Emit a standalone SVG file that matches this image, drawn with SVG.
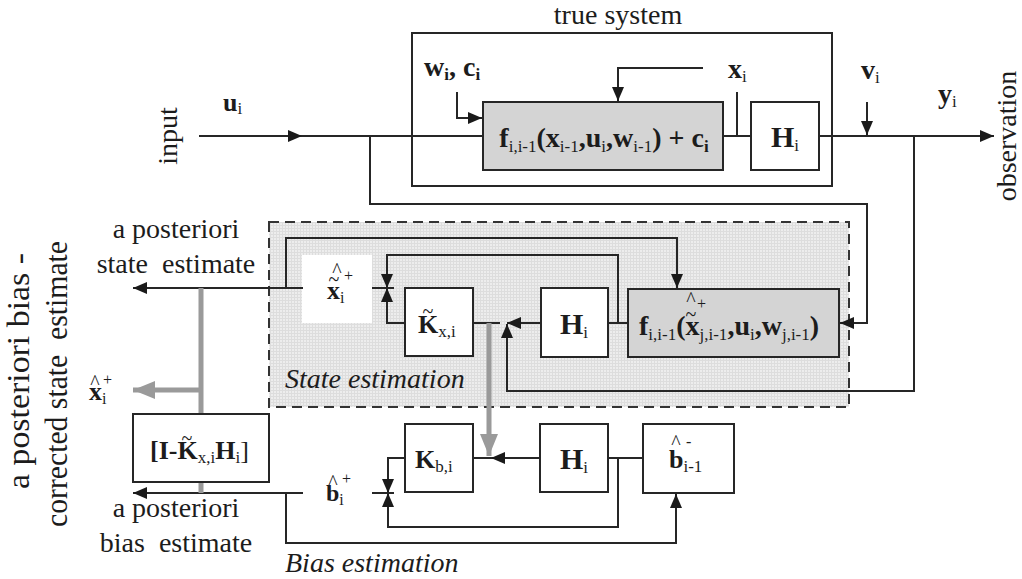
<svg xmlns="http://www.w3.org/2000/svg" width="1022" height="579" viewBox="0 0 1022 579" font-family="'Liberation Serif', 'DejaVu Serif', serif">
<defs>
<style>
.t{font-family:'Liberation Serif','DejaVu Serif','Times New Roman',serif;fill:#1c1c1c}
.lg{font-size:28px}
.md{font-size:26px}
.b{font-weight:bold}
.it{font-style:italic}
.s{font-size:17px;font-weight:normal}
.sb{font-size:17px;font-weight:bold}
.acc{font-size:20px;font-weight:normal}
.sup{font-size:16px;font-weight:normal}
.pre{white-space:pre}
.box{fill:#fff;stroke:#262626;stroke-width:2}
.gbox{fill:#d4d4d4;stroke:#262626;stroke-width:2}
.ln{fill:none;stroke:#262626;stroke-width:2}
.arr{marker-end:url(#ah)}
.gl{fill:none;stroke:#9a9a9a;stroke-width:5}
.garr{marker-end:url(#gah)}
</style>
<marker id="ah" viewBox="0 0 14 12" refX="14" refY="6" markerWidth="14" markerHeight="12" orient="auto" markerUnits="userSpaceOnUse">
<path d="M0,0L14,6L0,12z" fill="#1a1a1a"/>
</marker>
<marker id="gah" viewBox="0 0 22 18" refX="22" refY="9" markerWidth="22" markerHeight="18" orient="auto" markerUnits="userSpaceOnUse">
<path d="M0,0L22,9L0,18z" fill="#9a9a9a"/>
</marker>
<pattern id="grid" width="3" height="3" patternUnits="userSpaceOnUse">
<rect width="3" height="3" fill="#ededed"/>
<path d="M0,0.5H3M0.5,0V3" stroke="#dddddd" stroke-width="1"/>
</pattern>
</defs>

<rect width="1022" height="579" fill="#fff"/>

<!-- state estimation region (shaded, dashed outline) -->
<g id="state-estimation">
<rect x="269" y="222" width="580" height="185" fill="url(#grid)" stroke="#333" stroke-width="2" stroke-dasharray="10 6"/>
<rect x="302" y="255" width="70" height="68" fill="#fff"/>
<text class="t lg it" x="285" y="388">State estimation</text>
</g>

<!-- true system frame -->
<g id="true-system">
<rect x="412" y="33" width="420" height="153" fill="none" stroke="#262626" stroke-width="2"/>
<text class="t lg" x="618" y="24" text-anchor="middle">true system</text>
</g>

<!-- connectors -->
<g id="connectors">
<!-- true system -->
<path class="ln arr" d="M199,136H302"/>
<path class="ln" d="M302,136H483"/>
<path class="ln arr" d="M370,136V204H867V323H840"/>
<path class="ln arr" d="M457,92V118H482"/>
<path class="ln arr" d="M703,68H618V101"/>
<path class="ln" d="M737,92V136M723,136H751"/>
<path class="ln arr" d="M819,136H994"/>
<path class="ln arr" d="M867,102V135"/>
<path class="ln arr" d="M914,136V391H507V324"/>
<!-- state estimation -->
<path class="ln arr" d="M541,323H507"/>
<path class="ln" d="M473,323H500M608,323H628"/>
<path class="ln arr" d="M618,323V255H387V288"/>
<path class="ln arr" d="M405,323H387V288"/>
<path class="ln" d="M372,288H394"/>
<path class="ln arr" d="M303,288H133"/>
<path class="ln arr" d="M286,288V238H677V288"/>
<!-- bias estimation -->
<path class="ln arr" d="M540,458H491"/>
<path class="ln" d="M473,458H492M608,458H643"/>
<path class="ln arr" d="M618,458V527H388V493"/>
<path class="ln arr" d="M405,458H388V493"/>
<path class="ln" d="M372,493H394"/>
<path class="ln arr" d="M303,493H133"/>
<path class="ln arr" d="M286,493V543H676V494"/>
<!-- grey gain / correction paths -->
<path class="gl garr" d="M489,323V456"/>
<path class="gl" d="M201,288V414M201,482V493"/>
<path class="gl garr" d="M201,390H133"/>
</g>

<!-- true system nodes -->
<g id="f-true">
<rect class="gbox" x="483" y="102" width="240" height="68"/>
<text class="t b lg" x="604" y="147" text-anchor="middle">f<tspan class="s" dy="5">i,i-1</tspan><tspan dy="-5">(x</tspan><tspan class="s" dy="5">i-1</tspan><tspan dy="-5">,u</tspan><tspan class="s" dy="5">i</tspan><tspan dy="-5">,w</tspan><tspan class="s" dy="5">i-1</tspan><tspan dy="-5">) + c</tspan><tspan class="sb" dy="5">i</tspan></text>
</g>
<g id="h-true">
<rect class="box" x="751" y="102" width="68" height="68"/>
<text class="t b" style="font-size:30px" x="785" y="147" text-anchor="middle">H<tspan class="s" dy="4">i</tspan></text>
</g>

<!-- state estimation nodes -->
<g id="kx">
<rect class="box" x="405" y="288" width="68" height="68"/>
<text class="t acc" x="428" y="318" text-anchor="middle">~</text>
<text class="t b md" x="418" y="333">K<tspan class="s" dy="4">x,i</tspan></text>
</g>
<g id="h-state">
<rect class="box" x="541" y="288" width="67" height="69"/>
<text class="t b" style="font-size:30px" x="574" y="334" text-anchor="middle">H<tspan class="s" dy="4">i</tspan></text>
</g>
<g id="f-state">
<rect class="gbox" x="628" y="289" width="211" height="68"/>
<text class="t b lg" x="639" y="335">f<tspan class="s" dy="5">i,i-1</tspan><tspan dy="-5">(x</tspan><tspan class="s" dy="5">j,i-1</tspan><tspan dy="-5">,u</tspan><tspan class="s" dy="5">i</tspan><tspan dy="-5">,w</tspan><tspan class="s" dy="5">j,i-1</tspan><tspan dy="-5">)</tspan></text>
<text class="t acc" x="691" y="321" text-anchor="middle">~</text>
<text class="t acc" x="691" y="306" text-anchor="middle">^</text>
<text class="t sup" x="697" y="309">+</text>
</g>
<g id="x-state-label">
<text class="t b md" x="327" y="299">x<tspan class="sup" dy="4">i</tspan></text>
<text class="t acc" x="334" y="286" text-anchor="middle">~</text>
<text class="t acc" x="337" y="277" text-anchor="middle">^</text>
<text class="t sup" x="344" y="281">+</text>
</g>

<!-- bias estimation nodes -->
<g id="kb">
<rect class="box" x="405" y="424" width="68" height="68"/>
<text class="t b md" x="415" y="468">K<tspan class="s" dy="4">b,i</tspan></text>
</g>
<g id="h-bias">
<rect class="box" x="540" y="424" width="68" height="68"/>
<text class="t b" style="font-size:30px" x="574" y="469" text-anchor="middle">H<tspan class="s" dy="4">i</tspan></text>
</g>
<g id="b-prior">
<rect class="box" x="643" y="424" width="91" height="69"/>
<text class="t b md" x="669" y="468">b<tspan class="s" dy="4">i-1</tspan></text>
<text class="t acc" x="676" y="449" text-anchor="middle">^</text>
<text class="t sup" x="686" y="447">-</text>
</g>
<g id="b-post-label">
<text class="t b" style="font-size:24px" x="326" y="501">b<tspan class="sup" dy="4">i</tspan></text>
<text class="t acc" x="333" y="489" text-anchor="middle">^</text>
<text class="t sup" x="342" y="484">+</text>
</g>

<!-- bias correction node -->
<g id="correction">
<rect class="box" x="133" y="414" width="136" height="68"/>
<text class="t b md" x="150" y="459">[I-K<tspan class="s" dy="4">x,i</tspan><tspan dy="-4">H</tspan><tspan class="s" dy="4">i</tspan><tspan dy="-4" font-weight="normal">]</tspan></text>
<text class="t acc" x="187" y="445" text-anchor="middle">~</text>
</g>
<g id="x-corrected-label">
<text class="t b md" x="89" y="400">x<tspan class="sup" dy="4">i</tspan></text>
<text class="t acc" x="95" y="389" text-anchor="middle">^</text>
<text class="t sup" x="103" y="385">+</text>
</g>

<!-- signal labels -->
<g id="labels">
<text class="t b md" x="223" y="111">u<tspan class="s" dy="3">i</tspan></text>
<text class="t b lg" x="424" y="76">w<tspan class="sb" dy="4">i</tspan><tspan dy="-4">, c</tspan><tspan class="sb" dy="4">i</tspan></text>
<text class="t b lg" x="728" y="78">x<tspan class="s" dy="4">i</tspan></text>
<text class="t b lg" x="861" y="79">v<tspan class="s" dy="4">i</tspan></text>
<text class="t b lg" x="938" y="103">y<tspan class="s" dy="4">i</tspan></text>
<text class="t lg" transform="translate(177,136) rotate(-90)" text-anchor="middle">input</text>
<text class="t lg" transform="translate(1016,136) rotate(-90)" text-anchor="middle">observation</text>
<text class="t lg" x="176" y="238" text-anchor="middle">a posteriori</text>
<text class="t lg pre" x="176" y="273" text-anchor="middle">state  estimate</text>
<text class="t lg" x="176" y="517" text-anchor="middle">a posteriori</text>
<text class="t lg pre" x="176" y="552" text-anchor="middle">bias  estimate</text>
<text class="t lg it" x="285" y="572">Bias estimation</text>
<text class="t pre" style="font-size:31px" transform="translate(29,371) rotate(-90)" text-anchor="middle" textLength="236" lengthAdjust="spacingAndGlyphs">a posteriori bias -</text>
<text class="t pre" style="font-size:31px" transform="translate(67,384) rotate(-90)" text-anchor="middle" textLength="286" lengthAdjust="spacingAndGlyphs">corrected state  estimate</text>
</g>
</svg>
